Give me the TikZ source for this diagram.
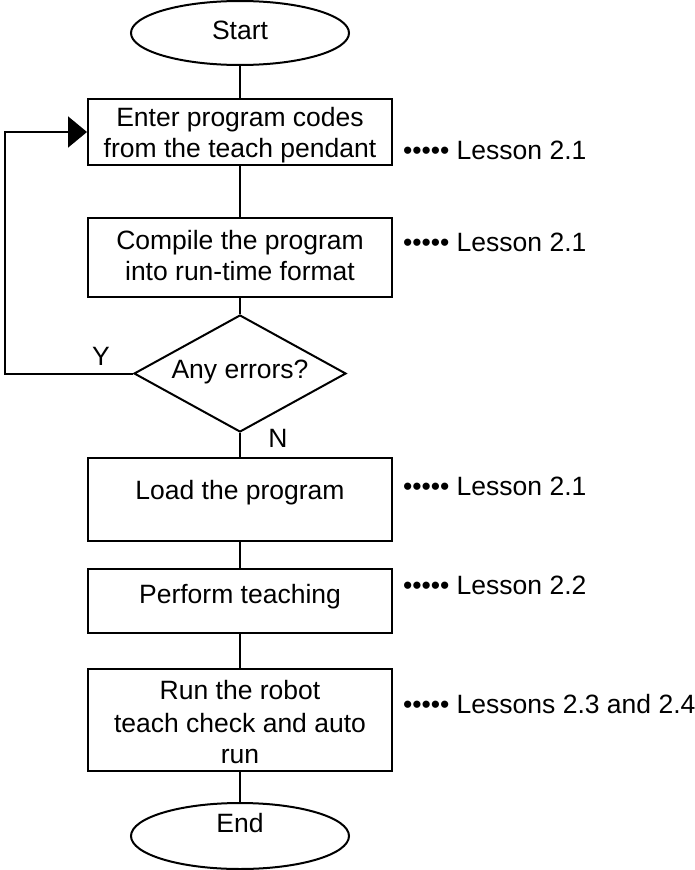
\documentclass[tikz,border=0pt]{standalone}
\usepackage{fontspec}
\setmainfont{Liberation Sans}
\usetikzlibrary{shapes.geometric,arrows.meta}
\begin{document}
\begin{tikzpicture}[x=1pt,y=-1pt,line width=2pt,
  box/.style={draw,rectangle,inner sep=0pt,minimum width=304pt},
  term/.style={draw,ellipse,inner sep=0pt,minimum width=218pt},
  decide/.style={draw,diamond,inner sep=0pt,minimum width=212pt,minimum height=117pt},
  txt/.style={inner sep=0pt,anchor=base,font=\fontsize{26.5}{31}\selectfont},
  lesson/.style={inner sep=0pt,anchor=base west,font=\fontsize{26.5}{31}\selectfont},
  conn/.style={draw,line width=2pt},
  loopconn/.style={draw,line width=2pt,-{Triangle[length=19pt,width=31pt]}}]
\useasboundingbox (0,0) rectangle (695,870);
% shapes
\node[term,minimum height=64pt] (start) at (240,33) {};
\node[box,minimum height=66pt] (b1) at (240,132) {};
\node[box,minimum height=79pt] (b2) at (240,257.5) {};
\node[decide] (dia) at (240,373.5) {};
\node[box,minimum height=83pt] (b3) at (240,499.5) {};
\node[box,minimum height=64pt] (b4) at (240,601) {};
\node[box,minimum height=102pt] (b5) at (240,720) {};
\node[term,minimum height=66pt] (end) at (240,836) {};
% texts
\node[txt] (tstart) at (240,39) {Start};
\node[txt] (t1a) at (240,126) {Enter program codes};
\node[txt] (t1b) at (240,157) {from the teach pendant};
\node[txt] (t2a) at (240,249) {Compile the program};
\node[txt] (t2b) at (240,280) {into run-time format};
\node[txt] (tdia) at (240,378) {Any errors?};
\node[txt] (ty) at (101,365) {Y};
\node[txt] (tn) at (278,447) {N};
\node[txt] (t3) at (240,499) {Load the program};
\node[txt] (t4) at (240,603) {Perform teaching};
\node[txt] (t5a) at (240,699) {Run the robot};
\node[txt] (t5b) at (240,732) {teach check and auto};
\node[txt] (t5c) at (240,763) {run};
\node[txt] (tend) at (240,832) {End};
% lesson labels
\node[lesson] (l1) at (402,159) {••••• Lesson 2.1};
\node[lesson] (l2) at (402,251) {••••• Lesson 2.1};
\node[lesson] (l3) at (402,495) {••••• Lesson 2.1};
\node[lesson] (l4) at (402,594) {••••• Lesson 2.2};
\node[lesson] (l5) at (402,713) {••••• Lessons 2.3 and 2.4};
% connectors
\draw[conn] (start.south) -- (b1.north);
\draw[conn] (b1.south) -- (b2.north);
\draw[conn] (b2.south) -- (dia.north);
\draw[conn] (dia.south) -- (b3.north);
\draw[conn] (b3.south) -- (b4.north);
\draw[conn] (b4.south) -- (b5.north);
\draw[conn] (b5.south) -- (end.north);
\coordinate (loopx) at (5,0);
\draw[loopconn] (dia.west) -- (dia.west -| loopx) |- (b1.west);
\end{tikzpicture}
\end{document}
